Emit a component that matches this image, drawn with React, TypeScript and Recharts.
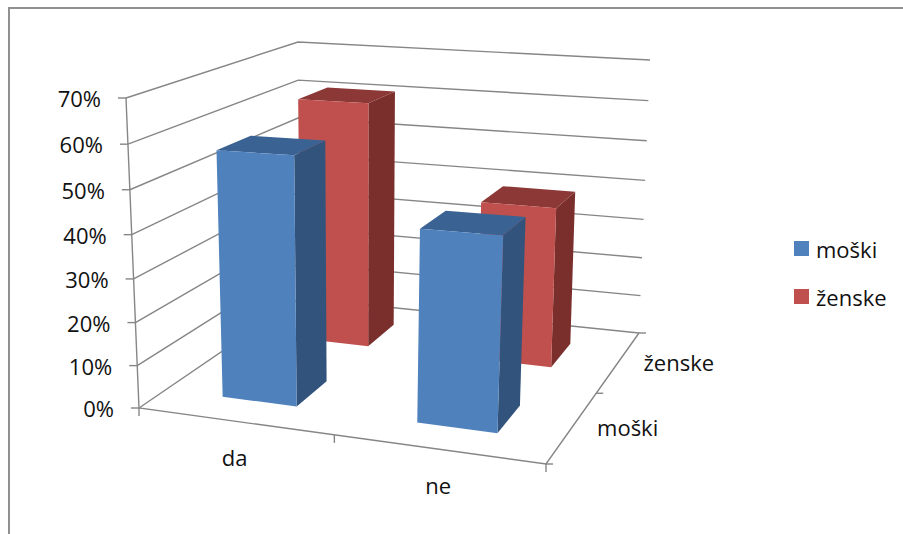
import { Bar, BarChart, CartesianGrid, Legend, XAxis, YAxis } from "recharts";

const categories = ["da", "ne"];
const moskiValues = [57, 43];
const zenskeValues = [61, 39];
const valueTicks = [0, 10, 20, 30, 40, 50, 60, 70];
const depthLabels = ["moški", "ženske"];

const data = categories.map((name, i) => ({
  name,
  moski: moskiValues[i],
  zenske: zenskeValues[i],
}));

const FONT = "'Open Sans', sans-serif";
const FONT_SIZE = 22;
const TEXT = "#111";
const LINE = "#868686";

// flat plot area handed to recharts, the shapes below fold it into the 3d box
const PLOT = { left: 150, top: 100, width: 400, height: 300 };
const MAX_VALUE = 70;
const BAR_WIDTH = 78;
const DEPTH_SHARE = 0.2;

// corners of the box on screen: f/b front/back, l/r left/right, 0/1 floor/top
const BOX = {
  fl0: [139, 408],
  fl1: [126, 98],
  fr0: [546, 464],
  fr1: [560, 118],
  bl0: [300, 298],
  bl1: [298, 42],
  br0: [639, 333],
  br1: [650, 60],
};

function mix(a: number[], b: number[], t: number) {
  return [a[0] + (b[0] - a[0]) * t, a[1] + (b[1] - a[1]) * t];
}

// the small bends stand in for real perspective
function project(u: number, d: number, v: number) {
  const pu = u - 0.08 * u * (1 - u);
  const pd = d + 0.16 * d * (1 - d);
  const pv = v - 0.05 * v * (1 - v);
  const floor = mix(mix(BOX.fl0, BOX.fr0, pu), mix(BOX.bl0, BOX.br0, pu), pd);
  const top = mix(mix(BOX.fl1, BOX.fr1, pu), mix(BOX.bl1, BOX.br1, pu), pd);
  return mix(floor, top, pv);
}

const toU = (x: number) => (x - PLOT.left) / PLOT.width;
const toV = (y: number) => (PLOT.top + PLOT.height - y) / PLOT.height;

function points(list: number[][]) {
  return list.map((p) => `${p[0]},${p[1]}`).join(" ");
}

function Box3D(props: any) {
  const { x, y, width, depthIndex, fill, side, top } = props;
  const u0 = toU(x);
  const u1 = toU(x + width);
  const v = toV(y);
  const dc = (depthIndex + 0.5) / depthLabels.length;
  const d0 = dc - DEPTH_SHARE / 2;
  const d1 = dc + DEPTH_SHARE / 2;
  return (
    <g>
      <polygon
        fill={side}
        points={points([project(u1, d0, 0), project(u1, d1, 0), project(u1, d1, v), project(u1, d0, v)])}
      />
      <polygon
        fill={top}
        points={points([project(u0, d0, v), project(u1, d0, v), project(u1, d1, v), project(u0, d1, v)])}
      />
      <polygon
        fill={fill}
        points={points([project(u0, d0, 0), project(u1, d0, 0), project(u1, d0, v), project(u0, d0, v)])}
      />
    </g>
  );
}

function WallLine(props: any) {
  const v = toV(props.y1);
  return (
    <polyline
      key={props.key ?? v}
      fill="none"
      stroke={LINE}
      strokeWidth={1.4}
      points={points([project(0, 0, v), project(0, 1, v), project(1, 1, v)])}
    />
  );
}

function ValueTick(props: any) {
  const v = toV(props.y);
  const [px, py] = project(0, 0, v);
  return (
    <g>
      <line x1={px - 8} y1={py} x2={px} y2={py} stroke={LINE} strokeWidth={1.4} />
      <text
        x={px - 25}
        y={py}
        textAnchor="end"
        dominantBaseline="central"
        fontFamily={FONT}
        fontSize={FONT_SIZE}
        fill={TEXT}
      >
        {`${props.payload.value}%`}
      </text>
    </g>
  );
}

function CategoryTick(props: any) {
  const [px, py] = project(toU(props.x), 0, 0);
  return (
    <text
      x={px}
      y={py + 36}
      textAnchor="middle"
      dominantBaseline="central"
      fontFamily={FONT}
      fontSize={FONT_SIZE}
      fill={TEXT}
    >
      {props.payload.value}
    </text>
  );
}

function BoxEdges() {
  const stops = categories.map((_, i) => i / categories.length).concat(1);
  const depths = depthLabels.map((_, i) => i / depthLabels.length).concat(1);
  return (
    <g stroke={LINE} strokeWidth={1.4} fill="none">
      <polyline points={points([project(0, 0, 1), project(0, 0, 0), project(1, 0, 0), project(1, 1, 0)])} />
      {stops.map((s) => {
        const [px, py] = project(s, 0, 0);
        return <line key={s} x1={px} y1={py} x2={px} y2={py + 8} />;
      })}
      {depths.map((s) => {
        const [px, py] = project(1, s, 0);
        return <line key={s} x1={px} y1={py} x2={px + 7} y2={py} />;
      })}
    </g>
  );
}

function DepthLabels() {
  return (
    <g>
      {depthLabels.map((label, i) => {
        const [px, py] = project(1, (i + 0.5) / depthLabels.length, 0);
        return (
          <text
            key={label}
            x={px + 25}
            y={py}
            dominantBaseline="central"
            fontFamily={FONT}
            fontSize={FONT_SIZE}
            fill={TEXT}
          >
            {label}
          </text>
        );
      })}
    </g>
  );
}

function LegendList(props: any) {
  return (
    <div style={{ fontFamily: FONT, fontSize: FONT_SIZE, color: TEXT }}>
      {props.payload.map((item: any) => (
        <div
          key={item.value}
          style={{ display: "flex", alignItems: "center", height: 15, marginBottom: 33 }}
        >
          <span style={{ width: 15, height: 15, background: item.color, marginRight: 7 }} />
          <span>{item.value}</span>
        </div>
      ))}
    </div>
  );
}

export default function App() {
  return (
    <div style={{ position: "absolute", left: 0, top: 0, width: 903, height: 534, overflow: "hidden", background: "#fff" }}>
      <div
        style={{
          position: "absolute",
          left: 8,
          top: 7,
          right: 0,
          bottom: 0,
          borderLeft: "2px solid #909090",
          borderTop: "2px solid #909090",
        }}
      />
      <BarChart
        width={903}
        height={534}
        data={data}
        barGap={-BAR_WIDTH}
        barSize={BAR_WIDTH}
        margin={{ top: PLOT.top, right: 903 - PLOT.left - PLOT.width - 110, bottom: 0, left: 0 }}
      >
        <CartesianGrid horizontal={WallLine} vertical={false} />
        <XAxis
          dataKey="name"
          height={534 - PLOT.top - PLOT.height}
          axisLine={false}
          tickLine={false}
          interval={0}
          tick={CategoryTick}
        />
        <YAxis
          width={PLOT.left}
          domain={[0, MAX_VALUE]}
          ticks={valueTicks}
          axisLine={false}
          tickLine={false}
          tick={ValueTick}
        />
        <BoxEdges />
        <DepthLabels />
        <Legend
          layout="vertical"
          align="right"
          verticalAlign="top"
          width={110}
          content={LegendList}
          wrapperStyle={{ left: 794, top: 241, right: "auto", margin: 0 }}
        />
        <Bar
          dataKey="zenske"
          name="ženske"
          fill="#C0504D"
          isAnimationActive={false}
          shape={(p: any) => <Box3D {...p} depthIndex={1} side="#7B2F2D" top="#8C3836" />}
        />
        <Bar
          dataKey="moski"
          name="moški"
          fill="#4F81BD"
          isAnimationActive={false}
          shape={(p: any) => <Box3D {...p} depthIndex={0} side="#32537B" top="#3A6394" />}
        />
      </BarChart>
    </div>
  );
}
